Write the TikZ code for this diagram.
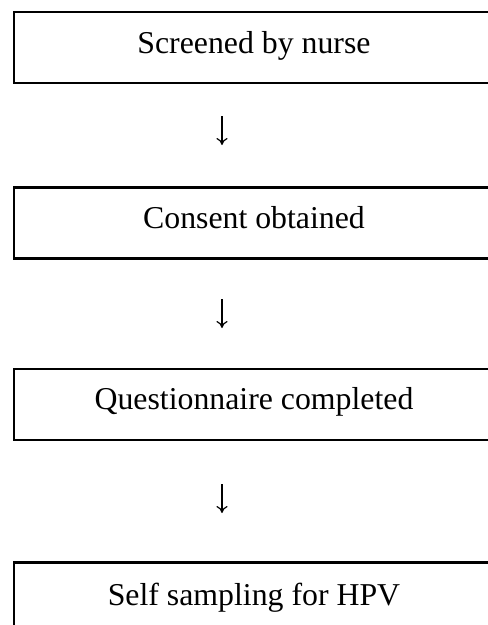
\documentclass[tikz,border=0pt]{standalone}
\usepackage{fontspec}
\setmainfont{Liberation Serif}
\usetikzlibrary{arrows.meta}
\begin{document}
\begin{tikzpicture}[x=1pt,y=-1pt,
  stepbox/.style={draw=black,line width=2.2pt,rectangle,minimum width=480pt,minimum height=71pt,inner sep=0pt},
  steptext/.style={anchor=base,inner sep=0pt,font=\fontsize{31.8}{38}\selectfont},
  flowarrow/.style={line width=1.2pt,-{To[length=7pt,width=11pt,line width=1.2pt]}}]
\useasboundingbox (0,0) rectangle (488,625);
\clip (0,0) rectangle (488,625);
\node[stepbox] (b1) at (254,47.5) {};
\node[steptext] (t1) at (254,53) {Screened by nurse};
\node[stepbox] (b2) at (254,223) {};
\node[steptext] (t2) at (254,228) {Consent obtained};
\node[stepbox] (b3) at (254,404.5) {};
\node[steptext] (t3) at (254,409) {Questionnaire completed};
\node[stepbox] (b4) at (254,598) {};
\node[steptext] (t4) at (254,605) {Self sampling for HPV};
\coordinate (a1s) at (222,116);
\coordinate (a1e) at (222,145);
\coordinate (a2s) at (222,299);
\coordinate (a2e) at (222,328);
\coordinate (a3s) at (222,484);
\coordinate (a3e) at (222,513);
\draw[flowarrow] (a1s) -- (a1e);
\draw[flowarrow] (a2s) -- (a2e);
\draw[flowarrow] (a3s) -- (a3e);
\end{tikzpicture}
\end{document}
